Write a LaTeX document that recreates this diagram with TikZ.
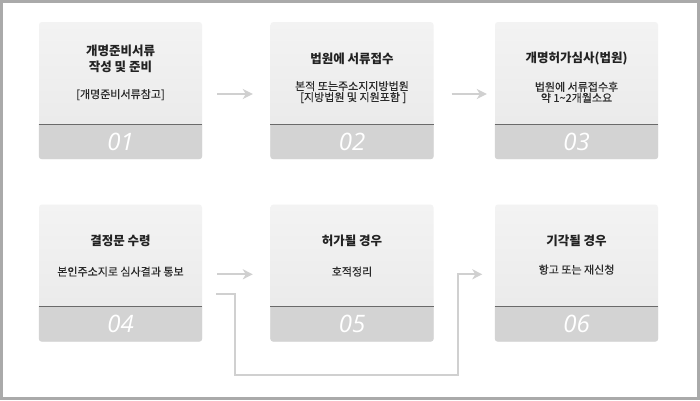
\documentclass[tikz,border=0pt]{standalone}
\usepackage{fontspec}
\setmainfont{Noto Sans CJK KR}
\newfontfamily\numfont{Open Sans}
\newfontfamily\subfont[FakeBold=0.3]{Noto Sans CJK KR}
\usetikzlibrary{arrows.meta,positioning,calc}
\definecolor{framegray}{HTML}{AAAAAA}
\definecolor{boxtop}{HTML}{F3F3F3}
\definecolor{boxbottom}{HTML}{E8E8E8}
\definecolor{bandgray}{HTML}{D3D3D3}
\definecolor{dividegray}{HTML}{6A6A6A}
\definecolor{linegray}{HTML}{D0D0D0}
\definecolor{titlegray}{HTML}{222222}
\definecolor{subgray}{HTML}{2A2A2A}
\begin{document}
\begin{tikzpicture}
[x=1pt, y=-1pt,
 stepbox/.style={shape=rectangle, rounded corners=3pt, inner sep=0pt,
   minimum width=163pt, minimum height=137pt,
   top color=boxtop, bottom color=boxbottom},
 titletext/.style={font=\bfseries\fontsize{12.5}{16}\selectfont,
   text=titlegray, align=center, inner sep=0pt},
 subtext/.style={font=\subfont\fontsize{11}{11}\selectfont,
   text=subgray, align=center, inner sep=0pt},
 numtext/.style={font=\numfont\itshape\fontsize{24}{24}\selectfont,
   text=white, inner sep=0pt},
 flowline/.style={draw=linegray, line width=2pt,
   -{Stealth[length=10pt,width=10pt,inset=3pt]}}]
\useasboundingbox (0,0) rectangle (700,400);
\fill[white] (0,0) rectangle (700,400);
\draw[framegray, line width=3pt] (1.5,1.5) rectangle (698.5,398.5);
%% step boxes
\foreach \nodename/\x/\y/\num in {s1/120.5/90.5/01, s2/352/90.5/02,
  s3/576.5/90.5/03, s4/120.5/273/04, s5/352/273/05, s6/576.5/273/06}
{
  \node (\nodename) at (\x,\y) [stepbox] {};
  \begin{scope}
    \clip ([yshift=35pt]\nodename.south west) rectangle (\nodename.south east);
    \fill[bandgray, rounded corners=3pt] (\nodename.north west)
      rectangle (\nodename.south east);
  \end{scope}
  \draw[dividegray, line width=1.2pt] ([yshift=35pt]\nodename.south west)
    -- ([yshift=35pt]\nodename.south east);
  \node [numtext] at ([yshift=17.5pt]\nodename.south) {\num};
}
%% texts
\foreach \nodename/\gap/\title/\sub in {
  s1/16/{개명준비서류\\작성 및 준비}/{[개명준비서류참고]},
  s2/16/{법원에 서류접수}/{본적 또는주소지지방법원\\\ [지방법원 및 지원포함 ]},
  s3/16/{개명허가심사(법원)}/{법원에 서류접수후\\약 1\textasciitilde2개월소요},
  s4/19/{결정문 수령}/{본인주소지로 심사결과 통보},
  s5/19/{허가될 경우}/{호적정리},
  s6/17/{기각될 경우}/{항고 또는 재신청}}
{
  \node (\nodename t) at ([yshift=-37pt]\nodename.north) [titletext] {\title};
  \node (\nodename d) [subtext, below=\gap pt of \nodename t] {\sub};
}
%% connectors
\draw[flowline, shorten <=15pt, shorten >=17.5pt]
  ([yshift=-3.5pt]s1.east) -- ([yshift=-3.5pt]s2.west);
\draw[flowline, shorten <=18pt, shorten >=8pt]
  ([yshift=-3.5pt]s2.east) -- ([yshift=-3.5pt]s3.west);
\draw[flowline, shorten <=15pt, shorten >=17.5pt]
  ([yshift=-1.3pt]s4.east) -- ([yshift=-1.3pt]s5.west);
\coordinate (low) at (0,375);
\draw[flowline, shorten >=12.5pt]
  ([xshift=14pt,yshift=-21pt]s4.east) -- ++(19,0)
  |- ($(low -| s6.west)+(-37,0)$) |- ([yshift=-1.3pt]s6.west);
\end{tikzpicture}
\end{document}
